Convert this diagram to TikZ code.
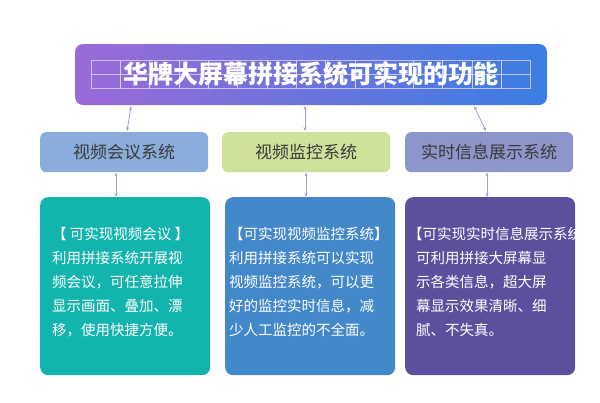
\documentclass[tikz,border=0pt]{standalone}
\usepackage{fontspec}
\setmainfont{Noto Sans CJK SC}
\usetikzlibrary{arrows.meta}
\definecolor{tL}{HTML}{9A6AD8}
\definecolor{tR}{HTML}{3A7EE2}
\definecolor{bA}{HTML}{8AADDB}
\definecolor{bB}{HTML}{CFE29B}
\definecolor{bC}{HTML}{8E95CA}
\definecolor{cA}{HTML}{14B4AE}
\definecolor{cB}{HTML}{4388C8}
\definecolor{cC}{HTML}{5E4F9E}
\definecolor{ar}{HTML}{9AA4D2}
\definecolor{tx}{HTML}{3A3A3A}
\begin{document}
\begin{tikzpicture}[x=1pt,y=-1pt,
  sub/.style={rounded corners=6pt,minimum width=168pt,minimum height=40pt,text=tx,font=\fontsize{17}{17}\selectfont,anchor=north west},
  card/.style={rounded corners=8pt,minimum width=170pt,minimum height=178pt,anchor=north west},
  ln/.style={anchor=west,text=white,font=\fontsize{14.5}{14.5}\selectfont,inner sep=0pt},
  link/.style={draw=ar,line width=0.8pt,{Stealth[length=4pt,width=3pt]}-{Stealth[length=4pt,width=3pt]}}]
\useasboundingbox (0,0) rectangle (600,402);
\shade[rounded corners=8pt,left color=tL,right color=tR] (75,44) rectangle (547,105);
\node (t) at (311,74.5) {};
\path (75,44) coordinate (tnw);
\foreach \i in {0,...,14}{
  \draw[white!70!tL,opacity=0.8,line width=0.4pt] (91+\i*29.3,60) rectangle ++(29.3,28);
  \draw[white!70!tL,opacity=0.8,line width=0.4pt] (91+\i*29.3,74) -- ++(29.3,0);
}
\node[text=white,font=\fontsize{25}{25}\selectfont\bfseries,inner sep=0pt] (title) at (311,74) {华牌大屏幕拼接系统可实现的功能};
\node[sub,fill=bA] (s1) at (40,132) {视频会议系统};
\node[sub,fill=bB] (s2) at (222,132) {视频监控系统};
\node[sub,fill=bC] (s3) at (405,132) {实时信息展示系统};
\node[card,fill=cA] (c1) at (40,197) {};
\node[card,fill=cB] (c2) at (225,197) {};
\node[card,fill=cC] (c3) at (405,197) {};
\coordinate (a1) at (131,106); \coordinate (a2) at (305,106); \coordinate (a3) at (474,106);
\coordinate (b1) at (127,131); \coordinate (b2) at (305,131); \coordinate (b3) at (486,131);
\draw[link] (a1) -- (b1); \draw[link] (a2) -- (b2); \draw[link] (a3) -- (b3);
\draw[link] (s1.south -| 116,0) -- (c1.north -| 116,0);
\draw[link] (s2.south -| 306,0) -- (c2.north -| 306,0);
\draw[link] (s3.south -| 487,0) -- (c3.north -| 487,0);
\node[ln] (l11) at (52,234) {【 可实现视频会议 】};
\node[ln] (l12) at (52,258) {利用拼接系统开展视};
\node[ln] (l13) at (52,282) {频会议，可任意拉伸};
\node[ln] (l14) at (52,306) {显示画面、叠加、漂};
\node[ln] (l15) at (52,330) {移，使用快捷方便。};
\node[ln] (l21) at (229,234) {【可实现视频监控系统】};
\node[ln] (l22) at (229,258) {利用拼接系统可以实现};
\node[ln] (l23) at (229,282) {视频监控系统，可以更};
\node[ln] (l24) at (229,306) {好的监控实时信息，减};
\node[ln] (l25) at (229,330) {少人工监控的不全面。};
\node[ln] (l31) at (408,234) {【可实现实时信息展示系统】};
\node[ln] (l32) at (416,258) {可利用拼接大屏幕显};
\node[ln] (l33) at (416,282) {示各类信息，超大屏};
\node[ln] (l34) at (416,306) {幕显示效果清晰、细};
\node[ln] (l35) at (416,330) {腻、不失真。};
\end{tikzpicture}
\end{document}
